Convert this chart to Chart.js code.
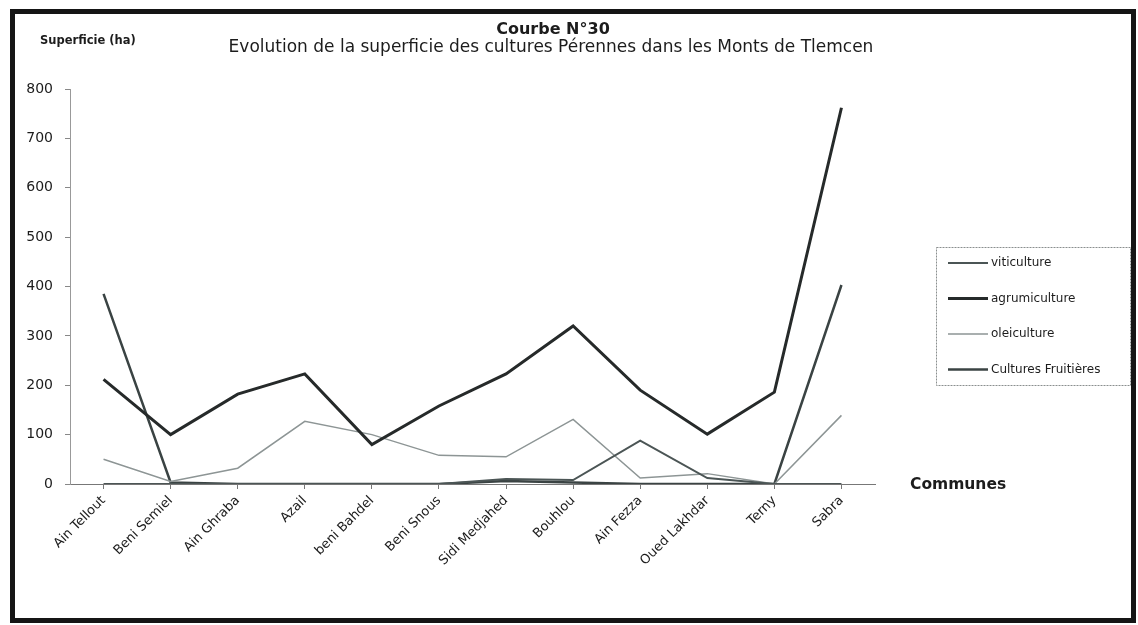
<!DOCTYPE html>
<html>
<head>
<meta charset="utf-8">
<script src="https://cdn.jsdelivr.net/npm/chart.js@4.4.1/dist/chart.umd.min.js"></script>
<style>
  body { margin: 0; background: #fff; }
  #wrap { position: relative; width: 1138px; height: 625px; }
  #courbe { position: absolute; left: 0; top: 0; }
  #cadre { position: absolute; left: 10px; top: 9px; width: 1116px; height: 604px;
           border: 5px solid #151515; pointer-events: none; }
</style>
</head>
<body>
<div id="wrap">
  <canvas id="courbe" width="1138" height="625"></canvas>
  <div id="cadre"></div>
</div>
<script>
// Communes des Monts de Tlemcen
const communes = ['Ain Tellout', 'Beni Semiel', 'Ain Ghraba', 'Azail', 'beni Bahdel', 'Beni Snous',
                  'Sidi Medjahed', 'Bouhlou', 'Ain Fezza', 'Oued Lakhdar', 'Terny', 'Sabra'];

// superficie en ha
const viticulture   = [0, 0, 0, 0, 0, 0, 10, 8, 88, 12, 0, 0];
const agrumiculture = [212, 100, 182, 223, 80, 158, 223, 320, 190, 101, 186, 762];
const oleiculture   = [50, 5, 32, 127, 100, 58, 55, 131, 12, 21, 0, 139];
const fruitieres    = [385, 3, 0, 0, 0, 0, 6, 3, 0, 0, 0, 403];

const yTicks = [0, 100, 200, 300, 400, 500, 600, 700, 800];

const police = '"DejaVu Sans", sans-serif';

// titres, légende encadrée et libellé des communes
const habillage = {
    id: 'habillage',
    afterDraw(chart) {
        const ctx = chart.ctx;
        ctx.save();
        ctx.fillStyle = '#1c1c1c';
        ctx.textBaseline = 'middle';

        ctx.textAlign = 'center';
        ctx.font = 'bold 16px ' + police;
        ctx.fillText('Courbe N°30', 553, 30);
        ctx.font = '17px ' + police;
        ctx.fillText('Evolution de la superficie des cultures Pérennes dans les Monts de Tlemcen', 551, 48);

        ctx.textAlign = 'left';
        ctx.font = 'bold 11.5px ' + police;
        ctx.fillText('Superficie (ha)', 40, 41);
        ctx.font = 'bold 15.5px ' + police;
        ctx.fillText('Communes', 910, 485);

        // légende
        ctx.strokeStyle = '#8a8f8f';
        ctx.lineWidth = 1;
        ctx.setLineDash([2, 1]);
        ctx.strokeRect(936.5, 247.5, 194, 138);
        ctx.setLineDash([]);
        ctx.font = '12px ' + police;
        chart.data.datasets.forEach((ds, i) => {
            const y = 263 + i * 35.5;
            ctx.strokeStyle = ds.borderColor;
            ctx.lineWidth = ds.borderWidth;
            ctx.beginPath();
            ctx.moveTo(948, y);
            ctx.lineTo(988, y);
            ctx.stroke();
            ctx.fillStyle = '#1c1c1c';
            ctx.fillText(ds.label, 991, y);
        });
        ctx.restore();
    }
};

new Chart(document.getElementById('courbe'), {
    type: 'line',
    data: {
        labels: communes,
        datasets: [
            { label: 'viticulture', data: viticulture, borderColor: '#4b5555', borderWidth: 2 },
            { label: 'agrumiculture', data: agrumiculture, borderColor: '#262a2a', borderWidth: 3 },
            { label: 'oleiculture', data: oleiculture, borderColor: '#8d9595', borderWidth: 1.5 },
            { label: 'Cultures Fruitières', data: fruitieres, borderColor: '#3a4343', borderWidth: 2.5 }
        ]
    },
    options: {
        responsive: false,
        animation: false,
        elements: {
            line: { tension: 0 },
            point: { radius: 0 }
        },
        layout: {
            padding: { top: 89, right: 263, bottom: 0, left: 0 }
        },
        scales: {
            x: {
                offset: true,
                grid: { drawOnChartArea: false, tickLength: 5, color: '#777' },
                border: { color: '#777', dash: [2, 1] },
                ticks: {
                    minRotation: 45,
                    maxRotation: 45,
                    padding: 4,
                    color: '#1c1c1c',
                    font: { family: police, size: 13 }
                },
                afterFit: s => { s.height = 141; }
            },
            y: {
                min: 0,
                max: 800,
                afterBuildTicks: s => { s.ticks = yTicks.map(v => ({ value: v })); },
                grid: { drawOnChartArea: false, tickLength: 5, color: '#888' },
                border: { color: '#999', dash: [2, 2] },
                ticks: {
                    padding: 12,
                    color: '#1c1c1c',
                    font: { family: police, size: 14 }
                },
                afterFit: s => { s.width = 70; }
            }
        },
        plugins: {
            legend: { display: false },
            tooltip: { enabled: false }
        }
    },
    plugins: [habillage]
});
</script>
</body>
</html>
